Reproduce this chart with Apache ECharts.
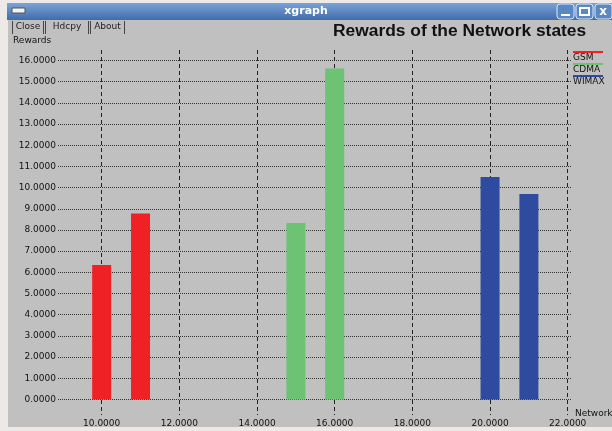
<!DOCTYPE html>
<html>
<head>
<meta charset="utf-8">
<script src="https://cdn.jsdelivr.net/npm/echarts@6/dist/echarts.min.js"></script>
<style>
  html, body { margin: 0; padding: 0; background: #ece9e6; }
  #chart { width: 612px; height: 431px; }
</style>
</head>
<body>
<div id="chart"></div>
<script>
// data
const seriesNames = ['GSM', 'CDMA', 'WIMAX'];
const seriesColors = ['#ef2124', '#6dc273', '#2e4b9f'];
const gsmX = [10, 11];
const gsmY = [6.35, 8.78];
const cdmaX = [15, 16];
const cdmaY = [8.33, 15.62];
const wimaxX = [20, 21];
const wimaxY = [10.5, 9.7];
const xTicks = [10, 12, 14, 16, 18, 20, 22];
const yTicks = [0, 1, 2, 3, 4, 5, 6, 7, 8, 9, 10, 11, 12, 13, 14, 15, 16];

const pairs = function (xs, ys) {
    return xs.map(function (x, i) { return [x, ys[i]]; });
};
const allData = [pairs(gsmX, gsmY), pairs(cdmaX, cdmaY), pairs(wimaxX, wimaxY)];

const labelFont = { fontFamily: 'DejaVu Sans', fontSize: 9, color: '#111' };

// window decoration + legend (legend line sits above its text, like xgraph)
const graphics = [
    { type: 'rect', shape: { x: 8, y: 20, width: 604, height: 407 }, style: { fill: '#c0c0c0' } },
    { type: 'rect', shape: { x: 7, y: 3, width: 605, height: 17 },
      style: { fill: new echarts.graphic.LinearGradient(0, 0, 0, 1, [
          { offset: 0, color: '#7ba3d6' }, { offset: 1, color: '#3f6cab' }]) } },
    { type: 'rect', shape: { x: 12, y: 8, width: 13, height: 5 }, style: { fill: '#f4f4f4', stroke: '#555', lineWidth: 1 } },
    { type: 'text', x: 306, y: 11, style: { text: 'xgraph', fill: '#fff', font: 'bold 11px DejaVu Sans', align: 'center', verticalAlign: 'middle' } },
    { type: 'rect', shape: { x: 557, y: 4, width: 17, height: 15, r: 3 }, style: { fill: '#5a88c4', stroke: '#dde8f5', lineWidth: 1 } },
    { type: 'rect', shape: { x: 576, y: 4, width: 17, height: 15, r: 3 }, style: { fill: '#5a88c4', stroke: '#dde8f5', lineWidth: 1 } },
    { type: 'rect', shape: { x: 595, y: 4, width: 17, height: 15, r: 3 }, style: { fill: '#5a88c4', stroke: '#dde8f5', lineWidth: 1 } },
    { type: 'rect', shape: { x: 561, y: 14, width: 9, height: 2 }, style: { fill: '#fff' } },
    { type: 'rect', shape: { x: 580, y: 8, width: 9, height: 7 }, style: { fill: 'none', stroke: '#fff', lineWidth: 2 } },
    { type: 'text', x: 603, y: 12, style: { text: 'x', fill: '#fff', font: 'bold 12px DejaVu Sans', align: 'center', verticalAlign: 'middle' } },
    { type: 'text', x: 333, y: 31, style: { text: 'Rewards of the Network states', fill: '#111', font: 'bold 17.4px Liberation Sans', verticalAlign: 'middle' } },
    { type: 'text', x: 13, y: 41, style: { text: 'Rewards', fill: '#111', font: '9px DejaVu Sans', verticalAlign: 'middle' } },
    { type: 'text', x: 575, y: 414, style: { text: 'Network', fill: '#111', font: '9px DejaVu Sans', verticalAlign: 'middle' } }
];

// buttons
const buttons = [['Close', 12, 43], ['Hdcpy', 45, 88], ['About', 90, 124]];
buttons.forEach(function (b) {
    graphics.push({ type: 'line', shape: { x1: b[1] + 0.5, y1: 21, x2: b[1] + 0.5, y2: 34 }, style: { stroke: '#444', lineWidth: 1 } });
    graphics.push({ type: 'line', shape: { x1: b[2] + 0.5, y1: 21, x2: b[2] + 0.5, y2: 34 }, style: { stroke: '#444', lineWidth: 1 } });
    graphics.push({ type: 'text', x: (b[1] + b[2]) / 2 + 0.5, y: 27, style: { text: b[0], fill: '#222', font: '9px DejaVu Sans', align: 'center', verticalAlign: 'middle' } });
});

seriesNames.forEach(function (name, i) {
    const y = 52 + i * 12;
    graphics.push({ type: 'rect', shape: { x: 573, y: y - 1, width: 30, height: 2 }, style: { fill: seriesColors[i] } });
    graphics.push({ type: 'text', x: 573, y: y + 6, style: { text: name, fill: '#111', font: '9px DejaVu Sans', verticalAlign: 'middle' } });
});

const chart = echarts.init(document.getElementById('chart'));

const option = {
    backgroundColor: '#ece9e6',
    animation: false,
    graphic: { elements: graphics },
    grid: { left: 58, right: 40, top: 50, bottom: 16 },
    xAxis: {
        type: 'value',
        min: 8.875,
        max: 22.11,
        axisLine: { show: false },
        axisTick: { show: false, customValues: xTicks },
        axisLabel: Object.assign({ customValues: xTicks, margin: 4, formatter: function (v) { return v.toFixed(4); } }, labelFont),
        splitLine: { show: true, lineStyle: { color: '#222', type: [4, 3], width: 1 } }
    },
    yAxis: {
        type: 'value',
        min: -0.73,
        max: 16.49,
        axisLine: { show: false },
        axisTick: { show: false, customValues: yTicks },
        axisLabel: Object.assign({ customValues: yTicks, margin: 2, formatter: function (v) { return v.toFixed(4); } }, labelFont),
        splitLine: { show: true, lineStyle: { color: '#333', type: [1, 1], width: 1 } }
    },
    series: seriesNames.map(function (name, i) {
        return {
            name: name,
            type: 'bar',
            data: allData[i],
            barWidth: 19,
            barGap: '-100%',
            itemStyle: { color: seriesColors[i] },
            z: 3
        };
    })
};

chart.setOption(option);
</script>
</body>
</html>
